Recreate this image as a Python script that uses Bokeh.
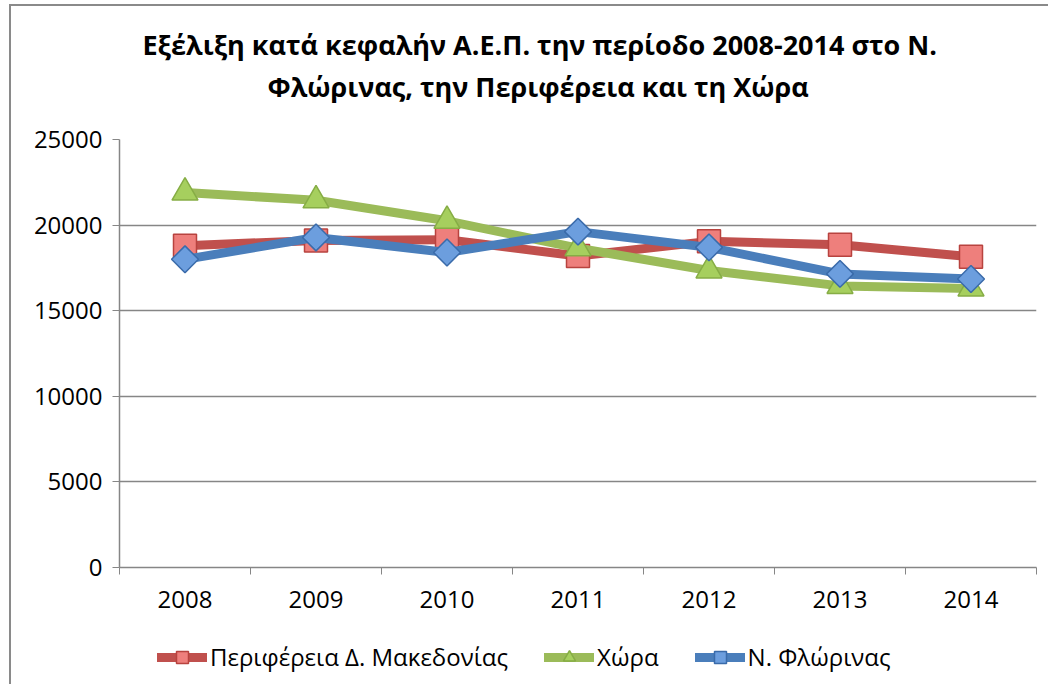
from bokeh.plotting import figure
from bokeh.layouts import column
from bokeh.models import (Range1d, FixedTicker, Legend, LegendItem, Title)
from bokeh.embed import file_html
from bokeh.resources import INLINE
import numpy as np

years = [2008, 2009, 2010, 2011, 2012, 2013, 2014]
periferia = [18800, 19100, 19150, 18200, 19050, 18850, 18150]
chora = [21900, 21450, 20250, 18650, 17350, 16450, 16300]
florina = [18000, 19280, 18400, 19620, 18700, 17150, 16850]
y_ticks = [0, 5000, 10000, 15000, 20000, 25000]

title1 = "Εξέλιξη κατά κεφαλήν Α.Ε.Π. την περίοδο 2008-2014 στο Ν."
title2 = "Φλώρινας, την Περιφέρεια και τη Χώρα"
names = ["Περιφέρεια Δ. Μακεδονίας", "Χώρα", "Ν. Φλώρινας"]

FONT = "Open Sans"
GRAY = "#868686"

p = figure(frame_width=917, frame_height=428, output_backend="svg", toolbar_location=None,
           x_range=Range1d(2007.5, 2014.5), y_range=Range1d(0, 25000),
           min_border_left=108, min_border_right=12, min_border_top=133,
           min_border_bottom=60, background_fill_color="white",
           border_fill_color="white")
p.outline_line_color = None

# titles (added nearest-first)
t2 = Title(text=title2, align="left", text_font=FONT, text_font_size="27px",
           text_font_style="bold", text_color="black", standoff=70, offset=148)
t1 = Title(text=title1, align="left", text_font=FONT, text_font_size="27px",
           text_font_style="bold", text_color="black", standoff=-64, offset=23)
p.add_layout(t2, "above")
p.add_layout(t1, "above")

# axes
p.xaxis.ticker = FixedTicker(ticks=years, minor_ticks=[y - 0.5 for y in years] + [years[-1] + 0.5])
p.xaxis.major_tick_line_color = None
p.xaxis.minor_tick_line_color = GRAY
p.xaxis.minor_tick_out = 7
p.xaxis.minor_tick_in = 0
p.xaxis.axis_line_color = GRAY
p.xaxis.axis_line_width = 1.5
p.xaxis.major_label_text_font = FONT
p.xaxis.major_label_text_font_size = "24px"
p.xaxis.major_label_standoff = 16
p.xaxis.major_label_text_color = "black"

p.yaxis.ticker = FixedTicker(ticks=y_ticks)
p.yaxis.major_tick_line_color = GRAY
p.yaxis.major_tick_out = 7
p.yaxis.major_tick_in = 0
p.yaxis.minor_tick_line_color = None
p.yaxis.axis_line_color = GRAY
p.yaxis.axis_line_width = 1.5
p.yaxis.major_label_text_font = FONT
p.yaxis.major_label_text_font_size = "24px"
p.yaxis.major_label_standoff = 10
p.yaxis.major_label_text_color = "black"

p.xgrid.grid_line_color = None
p.ygrid.grid_line_color = GRAY
p.ygrid.grid_line_width = 1.5

series = [
    (periferia, "#C0504D", "square", "#EE7F7C", "#B8433F", 23, 0),
    (chora, "#9BBB59", "triangle", "#A6CF5E", "#86AD45", 26, 0),
    (florina, "#4A7EBB", "square", "#6C9EDE", "#3A6BAA", 19, np.pi / 4),
]

# legend strip: a second, axis-less figure under the chart
lg = figure(width=1037, height=57, output_backend="svg", toolbar_location=None,
            x_range=Range1d(0, 1), y_range=Range1d(0, 1),
            x_axis_type=None, y_axis_type=None,
            min_border_left=0, min_border_right=0, min_border_top=0, min_border_bottom=0,
            background_fill_color="white", border_fill_color="white")
lg.outline_line_color = None
lg.xgrid.grid_line_color = None
lg.ygrid.grid_line_color = None

items = []
for (vals, lc, mk, fc, bc, sz, ang), name in zip(series, names):
    p.line(years, vals, line_color=lc, line_width=9, line_join="round", line_cap="round")
    p.scatter(years, vals, marker=mk, size=sz, angle=ang, fill_color=fc,
              line_color=bc, line_width=1.5)
    # legend proxies: same data (outside this strip's ranges, so not visible), same styling
    ln = lg.line(years, vals, line_color=lc, line_width=9, line_join="round", line_cap="round")
    sc = lg.scatter(years, vals, marker=mk, size=sz, angle=ang, fill_color=fc,
                    line_color=bc, line_width=1.5)
    items.append(LegendItem(label=name, renderers=[ln, sc]))

legend = Legend(items=items, orientation="horizontal", location=(38, 11),
                label_text_font=FONT, label_text_font_size="24px",
                label_text_color="black",
                glyph_width=50, glyph_height=30, label_standoff=3, spacing=36,
                border_line_color=None, background_fill_alpha=0, label_height=30,
                padding=5, margin=0)
lg.add_layout(legend, "center")

layout = column(p, lg, spacing=0)
layout.styles = {"margin-left": "9px", "margin-top": "4px",
                 "border-left": "2px solid #8a8a8a", "border-top": "2px solid #8a8a8a"}

open("out.html", "w").write(file_html(layout, INLINE))
